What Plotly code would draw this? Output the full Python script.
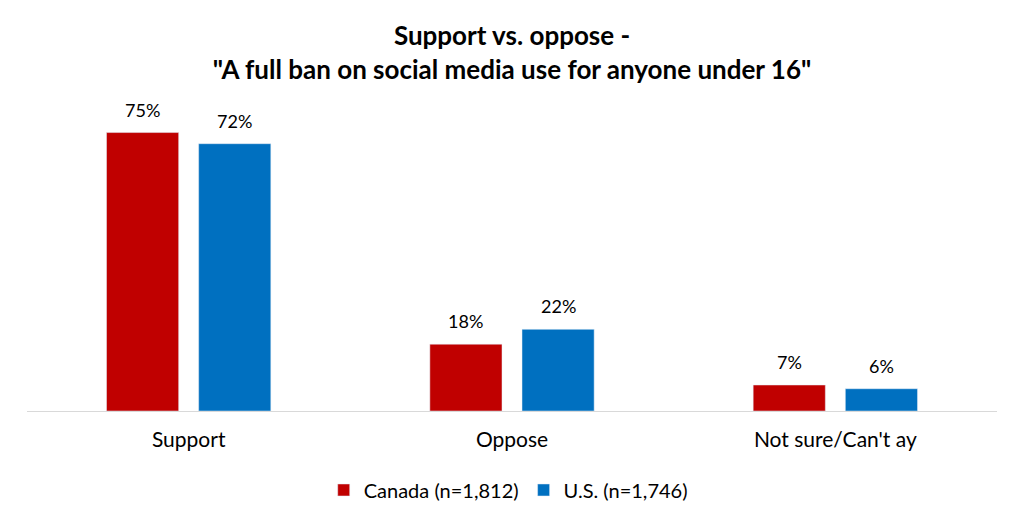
import plotly.graph_objects as go

categories = ["Support", "Oppose", "Not sure/Can't ay"]
canada = [75, 18, 7]
us = [72, 22, 6]
canada_name = "Canada (n=1,812)"
us_name = "U.S. (n=1,746)"

font = "Lato, 'Open Sans', Arial, sans-serif"
bargap = 0.430
bargroupgap = 0.217

fig = go.Figure()
fig.add_trace(go.Bar(x=categories, y=canada, name=canada_name, marker_color="#C00000"))
fig.add_trace(go.Bar(x=categories, y=us, name=us_name, marker_color="#0070C0"))

# value labels above each bar, offset to the bar centres of the group
slot = (1 - bargap) / 2
for k, vals in enumerate([canada, us]):
    off = (k - 0.5) * slot
    for i, v in enumerate(vals):
        fig.add_annotation(
            x=i + off, y=v, text=f"{v}%", showarrow=False,
            yanchor="middle", yshift=23,
            font=dict(size=18, color="#000000"),
        )

# page has an 8px body margin, so the figure is sized/offset to compensate
fig.update_layout(
    width=1016, height=518,
    font=dict(family=font, size=21, color="#000000"),
    paper_bgcolor="white", plot_bgcolor="white",
    barmode="group", bargap=bargap, bargroupgap=bargroupgap,
    margin=dict(l=19, r=27, t=106, b=115, autoexpand=False),
    title=dict(
        text="<b>Support vs. oppose -<br>\"A full ban on social media use for anyone under 16\"</b>",
        x=0.4961, xanchor="center", y=0.928, yanchor="middle",
        font=dict(size=26, family=font, color="#000000"),
    ),
    legend=dict(
        orientation="h", x=0.4961, xanchor="center",
        yref="container", y=0.0695, yanchor="middle",
        font=dict(size=20),
    ),
    showlegend=True,
)
fig.update_xaxes(
    showline=True, linecolor="#d9d9d9", linewidth=1, automargin=False,
    ticks="", tickfont=dict(size=21), ticklabelstandoff=10, fixedrange=True,
)
fig.update_yaxes(
    range=[0, 80], visible=False, showgrid=False, fixedrange=True, automargin=False,
)

fig.write_html("out.html")
